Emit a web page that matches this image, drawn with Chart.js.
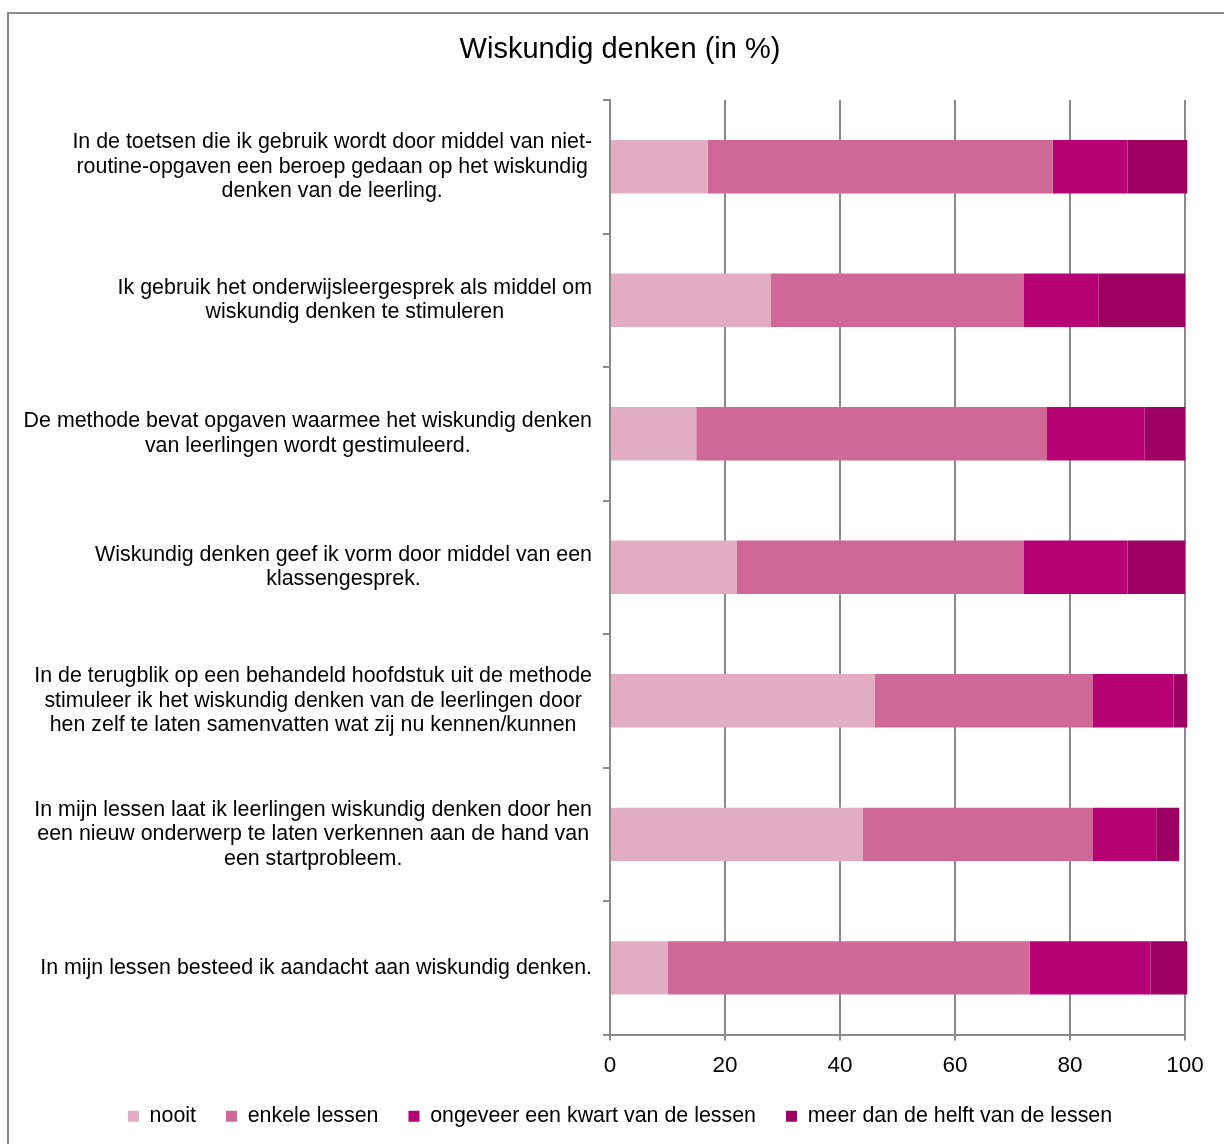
<!DOCTYPE html>
<html>
<head>
<meta charset="utf-8">
<script src="https://cdn.jsdelivr.net/npm/chart.js@4/dist/chart.umd.min.js"></script>
<style>
  html, body { margin: 0; padding: 0; background: #fff; }
  #wrap { position: relative; width: 1224px; height: 1144px; overflow: hidden; }
  #frame { position: absolute; left: 7px; top: 12px; width: 1240px; height: 1160px;
           border: 2px solid #8a8a8a; box-sizing: border-box; }
  canvas { position: absolute; left: 0; top: 0; }
</style>
</head>
<body>
<div id="wrap">
  <div id="frame"></div>
  <canvas id="chart" width="1224" height="1144"></canvas>
</div>
<script>
const categories = [
  ['In de toetsen die ik gebruik wordt door middel van niet-', 'routine-opgaven een beroep gedaan op het wiskundig', 'denken van de leerling.'],
  ['Ik gebruik het onderwijsleergesprek als middel om', 'wiskundig denken te stimuleren'],
  ['De methode bevat opgaven waarmee het wiskundig denken', 'van leerlingen wordt gestimuleerd.'],
  ['Wiskundig denken geef ik vorm door middel van een', 'klassengesprek.'],
  ['In de terugblik op een behandeld hoofdstuk uit de methode', 'stimuleer ik het wiskundig denken van de leerlingen door', 'hen zelf te laten samenvatten wat zij nu kennen/kunnen'],
  ['In mijn lessen laat ik leerlingen wiskundig denken door hen', 'een nieuw onderwerp te laten verkennen aan de hand van', 'een startprobleem.'],
  ['In mijn lessen besteed ik aandacht aan wiskundig denken.']
];

const nooit = [17, 28, 15, 22, 46, 44, 10];
const enkele = [60, 44, 61, 50, 38, 40, 63];
const kwart = [13, 13, 17, 18, 14, 11, 21];
const meer = [10.4, 15, 7, 10, 2.4, 4, 6.4];

const seriesNames = ['nooit', 'enkele lessen', 'ongeveer een kwart van de lessen', 'meer dan de helft van de lessen'];
const seriesColors = ['#E2ADC2', '#D06897', '#B80075', '#9C0062'];

const xTicks = [0, 20, 40, 60, 80, 100];

const FONT = '"Liberation Sans", Arial, sans-serif';
const GRID = '#8a8a8a';

// draws the multi-line category labels: block right-aligned, lines centred
const categoryLabels = {
  id: 'categoryLabels',
  afterDraw(chart) {
    const ctx = chart.ctx;
    const yScale = chart.scales.y;
    const right = chart.chartArea.left - 18;
    const lineH = 24.5;
    ctx.save();
    ctx.font = '21.4px ' + FONT;
    ctx.fillStyle = '#000';
    ctx.textAlign = 'center';
    ctx.textBaseline = 'middle';
    categories.forEach((lines, i) => {
      const widest = Math.max(...lines.map(l => ctx.measureText(l).width));
      const cx = right - widest / 2;
      const cy = yScale.getPixelForValue(i);
      lines.forEach((l, k) => {
        ctx.fillText(l, cx, cy + (k - (lines.length - 1) / 2) * lineH);
      });
    });
    ctx.restore();
  }
};

new Chart(document.getElementById('chart'), {
  type: 'bar',
  data: {
    labels: categories.map((_, i) => i),
    datasets: [nooit, enkele, kwart, meer].map((values, i) => ({
      label: seriesNames[i],
      data: values,
      backgroundColor: seriesColors[i],
      borderWidth: 0,
      barPercentage: 0.4,
      categoryPercentage: 1.0,
      clip: false
    }))
  },
  options: {
    indexAxis: 'y',
    responsive: false,
    animation: false,
    layout: { padding: { left: 55, right: 39, top: 0, bottom: 7 } },
    plugins: {
      title: {
        display: true,
        text: 'Wiskundig denken (in %)',
        color: '#000',
        font: { family: FONT, size: 29, weight: 'normal' },
        padding: { top: 32.6, bottom: 32.6 }
      },
      legend: {
        position: 'bottom',
        labels: {
          color: '#000',
          font: { family: FONT, size: 21.4 },
          boxWidth: 11,
          boxHeight: 11,
          padding: 30
        }
      },
      tooltip: { enabled: false }
    },
    scales: {
      x: {
        stacked: true,
        min: 0,
        max: 100,
        afterBuildTicks: scale => { scale.ticks = xTicks.map(v => ({ value: v })); },
        afterFit: scale => { scale.height = 41; scale.paddingRight = 39; },
        border: { color: GRID, width: 2 },
        grid: { color: GRID, lineWidth: 2, tickLength: 6, drawTicks: true },
        ticks: {
          color: '#000',
          padding: 12,
          font: { family: FONT, size: 22.5 }
        }
      },
      y: {
        stacked: true,
        afterFit: scale => { scale.width = 555; },
        border: { color: GRID, width: 2 },
        grid: { color: GRID, lineWidth: 2, drawOnChartArea: false, tickLength: 7, offset: true },
        ticks: { display: false }
      }
    }
  },
  plugins: [categoryLabels]
});
</script>
</body>
</html>
